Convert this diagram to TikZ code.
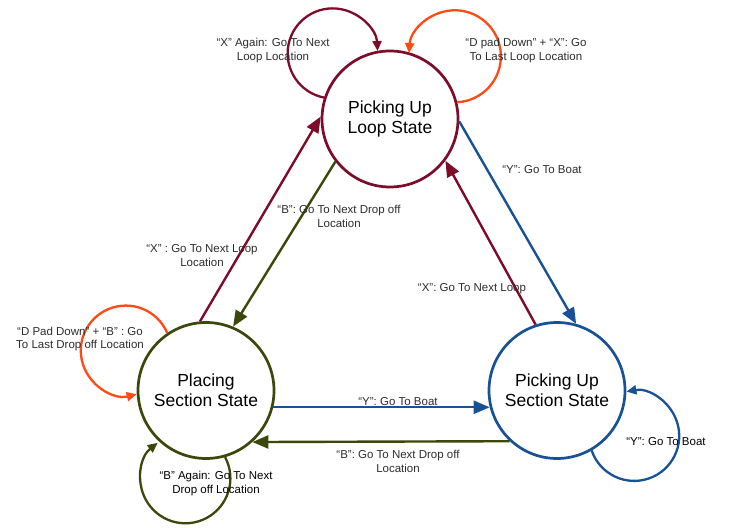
\documentclass[tikz,border=0pt]{standalone}
\usepackage{fontspec}
\setmainfont{Liberation Sans}
\usetikzlibrary{arrows.meta}
\definecolor{maroonc}{RGB}{125,12,42}
\definecolor{olivec}{RGB}{58,72,12}
\definecolor{bluec}{RGB}{24,82,148}
\definecolor{orangec}{RGB}{255,74,20}
\definecolor{txt}{RGB}{45,45,45}
\begin{document}
\begin{tikzpicture}[x=1pt,y=1pt,
  state/.style={circle, draw, line width=2.7pt, minimum size=136pt, inner sep=0pt, align=center, font=\fontsize{17.5}{20}\selectfont},
  edge/.style={line width=2.4pt, -{Triangle[length=16pt,width=13pt]}},
  loopedge/.style={line width=2.3pt, -{Triangle[length=10pt,width=9pt]}},
  lbl/.style={align=center, font=\fontsize{11.5}{14}\selectfont, text=txt, inner sep=0pt}]
\useasboundingbox (0,0) rectangle (732,528);
\fill[white] (0,0) rectangle (732,528);
% states
\node[state, draw=maroonc] (L) at (390,409) {Picking Up\\Loop State};
\node[state, draw=olivec] (P) at (206,137.5) {Placing\\Section State};
\node[state, draw=bluec] (S) at (557,137.5) {Picking Up\\Section State};
% straight transitions
\draw[edge, color=maroonc] (P.95) -- (L.178);
\draw[edge, color=olivec] (L.218) -- (P.67);
\draw[edge, color=bluec] (L.358) -- (S.74);
\draw[edge, color=maroonc] (S.108) -- (L.323);
\draw[edge, color=bluec] (P.-14.5) -- (S.194.5);
\draw[edge, color=olivec] (S.227.4) -- (P.312.6);
% self loops
\draw[loopedge, color=maroonc] (L.162) arc[start angle=259, end angle=3, radius=45pt];
\draw[loopedge, color=orangec] (L.14) arc[start angle=-87, end angle=176, radius=46pt];
\draw[loopedge, color=orangec] (P.124) arc[start angle=23, end angle=284, radius=45pt];
\draw[loopedge, color=olivec] (P.286) arc[start angle=28, end angle=-232, radius=45pt];
\draw[loopedge, color=bluec] (S.300) arc[start angle=199, end angle=460, radius=45pt];
% labels
\node[lbl] (lX1) at (273,477) {“X” Again: Go To Next\\Loop Location};
\node[lbl] (lD1) at (526,477) {“D pad Down” + “X”: Go\\To Last Loop Location};
\node[lbl] (lY1) at (542,358) {“Y”: Go To Boat};
\node[lbl] (lB1) at (339,312) {“B”: Go To Next Drop off\\Location};
\node[lbl] (lX2) at (202,272) {“X” : Go To Next Loop\\Location};
\node[lbl] (lX3) at (472,239) {“X”: Go To Next Loop};
\node[lbl, font=\fontsize{11.5}{12.5}\selectfont] (lD2) at (80,189) {“D Pad Down” + “B” : Go\\To Last Drop off Location};
\node[lbl] (lY2) at (398,126) {“Y”: Go To Boat};
\node[lbl] (lB2) at (398,67) {“B”: Go To Next Drop off\\Location};
\node[lbl, text=black] (lY3) at (666,86) {“Y”: Go To Boat};
\node[lbl, text=black] (lB3) at (216,44) {“B” Again: Go To Next\\Drop off Location};
\end{tikzpicture}
\end{document}
